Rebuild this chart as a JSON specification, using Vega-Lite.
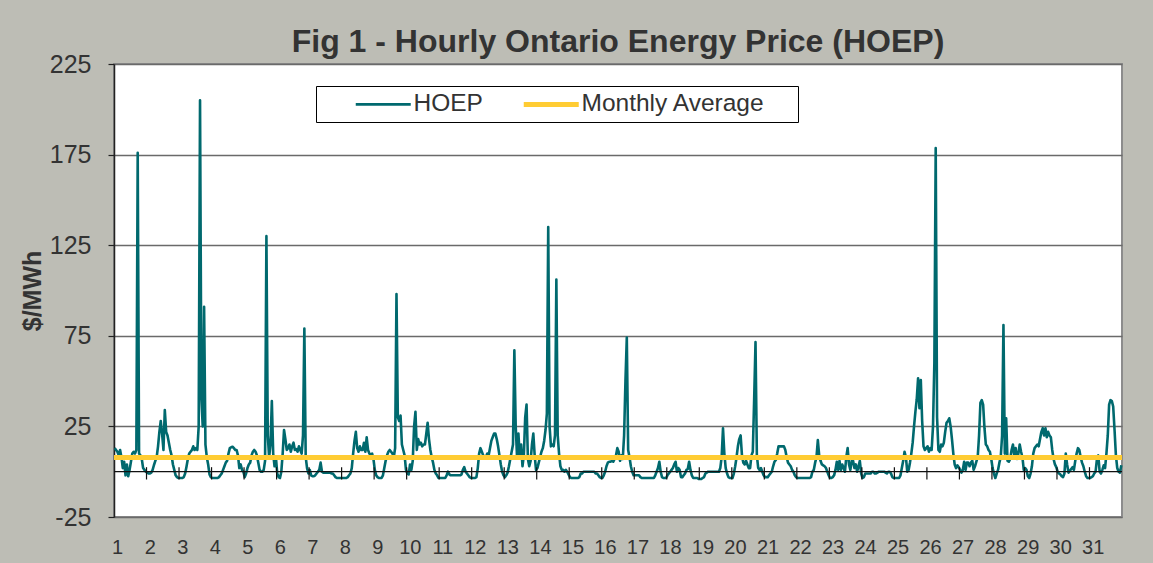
{
  "$schema": "https://vega.github.io/schema/vega-lite/v6.json",
  "width": 1008,
  "height": 453,
  "autosize": {"type": "none"},
  "padding": {"left": 114, "top": 64, "right": 31, "bottom": 46},
  "background": "#BDBDB5",
  "config": {
    "view": {"stroke": "#8C8C8C", "strokeWidth": 2, "fill": "white"},
    "font": "Liberation Sans",
    "axis": {"labelOverlap": false}
  },
  "title": {
    "text": "Fig 1 - Hourly Ontario Energy Price (HOEP)",
    "fontSize": 32,
    "fontWeight": "bold",
    "color": "#333333",
    "font": "Liberation Sans",
    "anchor": "middle",
    "offset": 6,
    "dy": 13
  },
  "datasets": {
    "hoep": [
      {"h":0,"p":13},{"h":1,"p":12},{"h":2,"p":11},{"h":3,"p":9},{"h":4,"p":12},{"h":5,"p":8},{"h":6,"p":2},{"h":7,"p":5.5},{"h":8,"p":-2},{"h":9,"p":4},{"h":10,"p":-2.5},{"h":11,"p":1},{"h":12,"p":5.5},{"h":13,"p":10},{"h":14,"p":11},{"h":15,"p":10},{"h":16,"p":12},{"h":17,"p":176},{"h":18,"p":10},{"h":19,"p":9},{"h":20,"p":7},{"h":21,"p":2},{"h":22,"p":1},{"h":23,"p":0},
      {"h":24,"p":-0.5},{"h":25,"p":-1},{"h":26,"p":-1},{"h":27,"p":-0.5},{"h":28,"p":1},{"h":29,"p":3.7},{"h":30,"p":6},{"h":31,"p":8},{"h":32,"p":14},{"h":33,"p":22},{"h":34,"p":28},{"h":35,"p":21},{"h":36,"p":12},{"h":37,"p":34},{"h":38,"p":22},{"h":39,"p":20},{"h":40,"p":16},{"h":41,"p":12},{"h":42,"p":9},{"h":43,"p":4},{"h":44,"p":1},{"h":45,"p":-2},{"h":46,"p":-3},{"h":47,"p":-3.5},
      {"h":48,"p":-3.5},{"h":49,"p":-3.5},{"h":50,"p":-3.5},{"h":51,"p":-3},{"h":52,"p":-1},{"h":53,"p":2.8},{"h":54,"p":7},{"h":55,"p":10},{"h":56,"p":11},{"h":57,"p":12},{"h":58,"p":14},{"h":59,"p":12},{"h":60,"p":13},{"h":61,"p":12},{"h":62,"p":25},{"h":63,"p":205},{"h":64,"p":40},{"h":65,"p":25},{"h":66,"p":91},{"h":67,"p":15},{"h":68,"p":8},{"h":69,"p":4},{"h":70,"p":-1.5},{"h":71,"p":-3},
      {"h":72,"p":-3.5},{"h":73,"p":-3.5},{"h":74,"p":-3.5},{"h":75,"p":-3.5},{"h":76,"p":-3.5},{"h":77,"p":-3},{"h":78,"p":-2},{"h":79,"p":-1},{"h":80,"p":1},{"h":81,"p":3},{"h":82,"p":5},{"h":83,"p":6},{"h":84,"p":10},{"h":85,"p":13},{"h":86,"p":13.5},{"h":87,"p":13.8},{"h":88,"p":13},{"h":89,"p":12},{"h":90,"p":12},{"h":91,"p":9},{"h":92,"p":2},{"h":93,"p":4},{"h":94,"p":1},{"h":95,"p":0},
      {"h":96,"p":-3},{"h":97,"p":-1},{"h":98,"p":2},{"h":99,"p":4},{"h":100,"p":5},{"h":101,"p":9},{"h":102,"p":11},{"h":103,"p":12},{"h":104,"p":11},{"h":105,"p":9},{"h":106,"p":5},{"h":107,"p":1},{"h":108,"p":0},{"h":109,"p":0},{"h":110,"p":1},{"h":111,"p":6},{"h":112,"p":130},{"h":113,"p":20},{"h":114,"p":8},{"h":115,"p":15},{"h":116,"p":39},{"h":117,"p":10},{"h":118,"p":3},{"h":119,"p":8},
      {"h":120,"p":-1},{"h":121,"p":-3},{"h":122,"p":-3.5},{"h":123,"p":0},{"h":124,"p":10},{"h":125,"p":23},{"h":126,"p":18},{"h":127,"p":12},{"h":128,"p":13},{"h":129,"p":15},{"h":130,"p":11},{"h":131,"p":14},{"h":132,"p":16},{"h":133,"p":12},{"h":134,"p":12.5},{"h":135,"p":11},{"h":136,"p":14},{"h":137,"p":12},{"h":138,"p":10},{"h":139,"p":20},{"h":140,"p":79},{"h":141,"p":8},{"h":142,"p":2},{"h":143,"p":-1},
      {"h":144,"p":1},{"h":145,"p":-2},{"h":146,"p":-2.5},{"h":147,"p":-2.5},{"h":148,"p":-2},{"h":149,"p":-1},{"h":150,"p":0},{"h":151,"p":1},{"h":152,"p":5},{"h":153,"p":0},{"h":154,"p":-0.5},{"h":155,"p":-0.5},{"h":156,"p":-0.5},{"h":157,"p":-0.5},{"h":158,"p":-0.5},{"h":159,"p":-0.5},{"h":160,"p":-1},{"h":161,"p":-1},{"h":162,"p":-2},{"h":163,"p":-3},{"h":164,"p":-3.5},{"h":165,"p":-3.5},{"h":166,"p":-3.5},{"h":167,"p":-3.5},
      {"h":168,"p":-3.5},{"h":169,"p":-3.5},{"h":170,"p":-3.5},{"h":171,"p":-3.5},{"h":172,"p":-3},{"h":173,"p":-2},{"h":174,"p":-1},{"h":175,"p":2},{"h":176,"p":10},{"h":177,"p":17},{"h":178,"p":22},{"h":179,"p":13},{"h":180,"p":11},{"h":181,"p":14},{"h":182,"p":12},{"h":183,"p":12},{"h":184,"p":16},{"h":185,"p":11},{"h":186,"p":19},{"h":187,"p":12},{"h":188,"p":10},{"h":189,"p":9},{"h":190,"p":10},{"h":191,"p":7},
      {"h":192,"p":1},{"h":193,"p":-2},{"h":194,"p":-3},{"h":195,"p":-3.5},{"h":196,"p":-3.5},{"h":197,"p":-3.5},{"h":198,"p":-2},{"h":199,"p":2},{"h":200,"p":6},{"h":201,"p":9},{"h":202,"p":11},{"h":203,"p":12},{"h":204,"p":11},{"h":205,"p":10},{"h":206,"p":8},{"h":207,"p":13},{"h":208,"p":98},{"h":209,"p":30},{"h":210,"p":28},{"h":211,"p":31},{"h":212,"p":15},{"h":213,"p":12},{"h":214,"p":9},{"h":215,"p":1},
      {"h":216,"p":-1},{"h":217,"p":-1.5},{"h":218,"p":4},{"h":219,"p":1},{"h":220,"p":6},{"h":221,"p":25},{"h":222,"p":33},{"h":223,"p":12},{"h":224,"p":18},{"h":225,"p":15},{"h":226,"p":16},{"h":227,"p":14},{"h":228,"p":15},{"h":229,"p":15},{"h":230,"p":21},{"h":231,"p":27},{"h":232,"p":18},{"h":233,"p":12},{"h":234,"p":8},{"h":235,"p":5},{"h":236,"p":1},{"h":237,"p":-1},{"h":238,"p":-2},{"h":239,"p":-3.5},
      {"h":240,"p":-3.5},{"h":241,"p":-3.5},{"h":242,"p":-3.5},{"h":243,"p":-3.5},{"h":244,"p":-3.5},{"h":245,"p":-2},{"h":246,"p":0},{"h":247,"p":-1.5},{"h":248,"p":-2},{"h":249,"p":-2},{"h":250,"p":-2},{"h":251,"p":-2},{"h":252,"p":-2},{"h":253,"p":-2},{"h":254,"p":-2},{"h":255,"p":-2},{"h":256,"p":-1.5},{"h":257,"p":1},{"h":258,"p":2.5},{"h":259,"p":0},{"h":260,"p":-1},{"h":261,"p":-2},{"h":262,"p":-3},{"h":263,"p":-3.5},
      {"h":264,"p":-3.5},{"h":265,"p":-3.5},{"h":266,"p":-3.5},{"h":267,"p":-3},{"h":268,"p":2},{"h":269,"p":10},{"h":270,"p":13},{"h":271,"p":11},{"h":272,"p":9},{"h":273,"p":8},{"h":274,"p":8},{"h":275,"p":10},{"h":276,"p":9},{"h":277,"p":13},{"h":278,"p":17},{"h":279,"p":19},{"h":280,"p":21},{"h":281,"p":21},{"h":282,"p":18},{"h":283,"p":14},{"h":284,"p":9},{"h":285,"p":4},{"h":286,"p":0},{"h":287,"p":-2},
      {"h":288,"p":-3},{"h":289,"p":-2},{"h":290,"p":-0.5},{"h":291,"p":3},{"h":292,"p":7},{"h":293,"p":11},{"h":294,"p":15},{"h":295,"p":67},{"h":296,"p":25},{"h":297,"p":8},{"h":298,"p":21},{"h":299,"p":8},{"h":300,"p":15},{"h":301,"p":3},{"h":302,"p":9},{"h":303,"p":30},{"h":304,"p":37},{"h":305,"p":7},{"h":306,"p":3},{"h":307,"p":6},{"h":308,"p":15},{"h":309,"p":21},{"h":310,"p":9},{"h":311,"p":1},
      {"h":312,"p":2},{"h":313,"p":5},{"h":314,"p":8},{"h":315,"p":11},{"h":316,"p":13},{"h":317,"p":17},{"h":318,"p":23},{"h":319,"p":32},{"h":320,"p":135},{"h":321,"p":25},{"h":322,"p":14},{"h":323,"p":15},{"h":324,"p":14},{"h":325,"p":20},{"h":326,"p":106},{"h":327,"p":20},{"h":328,"p":10},{"h":329,"p":3},{"h":330,"p":1},{"h":331,"p":1},{"h":332,"p":0},{"h":333,"p":1},{"h":334,"p":0},{"h":335,"p":-1.5},
      {"h":336,"p":-3},{"h":337,"p":-3.5},{"h":338,"p":-3.5},{"h":339,"p":-3.5},{"h":340,"p":-3.5},{"h":341,"p":-3.5},{"h":342,"p":-3.5},{"h":343,"p":-3},{"h":344,"p":-1},{"h":345,"p":-1},{"h":346,"p":0},{"h":347,"p":0},{"h":348,"p":0},{"h":349,"p":0},{"h":350,"p":0},{"h":351,"p":0},{"h":352,"p":0},{"h":353,"p":0},{"h":354,"p":0},{"h":355,"p":-1},{"h":356,"p":-1},{"h":357,"p":-2},{"h":358,"p":-3},{"h":359,"p":-3.5},
      {"h":360,"p":-3.5},{"h":361,"p":-2},{"h":362,"p":0},{"h":363,"p":3},{"h":364,"p":5},{"h":365,"p":5.5},{"h":366,"p":5.5},{"h":367,"p":6},{"h":368,"p":5.5},{"h":369,"p":7},{"h":370,"p":9},{"h":371,"p":13},{"h":372,"p":11},{"h":373,"p":6},{"h":374,"p":9},{"h":375,"p":7},{"h":376,"p":20},{"h":377,"p":50},{"h":378,"p":74},{"h":379,"p":12},{"h":380,"p":8},{"h":381,"p":3},{"h":382,"p":0},{"h":383,"p":-2},
      {"h":384,"p":-2},{"h":385,"p":-2},{"h":386,"p":-2},{"h":387,"p":-2},{"h":388,"p":-3},{"h":389,"p":-3.5},{"h":390,"p":-3.5},{"h":391,"p":-3.5},{"h":392,"p":-3.5},{"h":393,"p":-3.5},{"h":394,"p":-3.5},{"h":395,"p":-3.5},{"h":396,"p":-3.5},{"h":397,"p":-3.5},{"h":398,"p":-3.5},{"h":399,"p":-2},{"h":400,"p":0},{"h":401,"p":2},{"h":402,"p":5.5},{"h":403,"p":0},{"h":404,"p":-3},{"h":405,"p":-3.5},{"h":406,"p":-3.5},{"h":407,"p":-3.5},
      {"h":408,"p":-2},{"h":409,"p":-1},{"h":410,"p":0},{"h":411,"p":1},{"h":412,"p":2},{"h":413,"p":4},{"h":414,"p":5.5},{"h":415,"p":0},{"h":416,"p":2},{"h":417,"p":1},{"h":418,"p":-3},{"h":419,"p":-3},{"h":420,"p":-2},{"h":421,"p":-1},{"h":422,"p":1},{"h":423,"p":1.5},{"h":424,"p":5.5},{"h":425,"p":1},{"h":426,"p":-2},{"h":427,"p":-3.5},{"h":428,"p":-3.5},{"h":429,"p":-3.5},{"h":430,"p":-3.5},{"h":431,"p":-4},
      {"h":432,"p":-4},{"h":433,"p":-4},{"h":434,"p":-3.5},{"h":435,"p":-3},{"h":436,"p":-1},{"h":437,"p":-0.5},{"h":438,"p":0},{"h":439,"p":0},{"h":440,"p":0},{"h":441,"p":0},{"h":442,"p":0},{"h":443,"p":0},{"h":444,"p":0},{"h":445,"p":0},{"h":446,"p":0},{"h":447,"p":2},{"h":448,"p":8},{"h":449,"p":24},{"h":450,"p":10},{"h":451,"p":2},{"h":452,"p":-1},{"h":453,"p":-3},{"h":454,"p":-3.5},{"h":455,"p":-3.5},
      {"h":456,"p":-3.5},{"h":457,"p":-1},{"h":458,"p":3},{"h":459,"p":8},{"h":460,"p":14},{"h":461,"p":18},{"h":462,"p":20},{"h":463,"p":9},{"h":464,"p":5},{"h":465,"p":4},{"h":466,"p":6},{"h":467,"p":4},{"h":468,"p":2},{"h":469,"p":2},{"h":470,"p":9},{"h":471,"p":11},{"h":472,"p":40},{"h":473,"p":71.5},{"h":474,"p":9},{"h":475,"p":2},{"h":476,"p":1},{"h":477,"p":2},{"h":478,"p":0},{"h":479,"p":-2},
      {"h":480,"p":-3},{"h":481,"p":-3},{"h":482,"p":-3},{"h":483,"p":-2},{"h":484,"p":-1},{"h":485,"p":0},{"h":486,"p":3},{"h":487,"p":5.5},{"h":488,"p":6.5},{"h":489,"p":10},{"h":490,"p":14},{"h":491,"p":14},{"h":492,"p":14},{"h":493,"p":14},{"h":494,"p":14},{"h":495,"p":12},{"h":496,"p":8},{"h":497,"p":5},{"h":498,"p":4},{"h":499,"p":3},{"h":500,"p":1},{"h":501,"p":0},{"h":502,"p":-2},{"h":503,"p":-3},
      {"h":504,"p":-3.5},{"h":505,"p":-3.5},{"h":506,"p":-3.5},{"h":507,"p":-3.5},{"h":508,"p":-3.5},{"h":509,"p":-3.5},{"h":510,"p":-3.5},{"h":511,"p":-3.5},{"h":512,"p":-3.5},{"h":513,"p":-3.5},{"h":514,"p":-3},{"h":515,"p":0},{"h":516,"p":1},{"h":517,"p":5},{"h":518,"p":8},{"h":519,"p":17.5},{"h":520,"p":9},{"h":521,"p":6},{"h":522,"p":4},{"h":523,"p":3.5},{"h":524,"p":3},{"h":525,"p":2},{"h":526,"p":0},{"h":527,"p":-2},
      {"h":528,"p":-3.5},{"h":529,"p":-3.5},{"h":530,"p":-3},{"h":531,"p":-2},{"h":532,"p":1},{"h":533,"p":5.5},{"h":534,"p":1},{"h":535,"p":6},{"h":536,"p":1},{"h":537,"p":4},{"h":538,"p":2},{"h":539,"p":0},{"h":540,"p":8},{"h":541,"p":13},{"h":542,"p":4},{"h":543,"p":1},{"h":544,"p":6},{"h":545,"p":6},{"h":546,"p":2},{"h":547,"p":4},{"h":548,"p":0},{"h":549,"p":3},{"h":550,"p":6},{"h":551,"p":-1},
      {"h":552,"p":-3.5},{"h":553,"p":-3},{"h":554,"p":-1},{"h":555,"p":-1},{"h":556,"p":-1},{"h":557,"p":-1},{"h":558,"p":-1},{"h":559,"p":0},{"h":560,"p":0},{"h":561,"p":-1},{"h":562,"p":-1},{"h":563,"p":-0.5},{"h":564,"p":0},{"h":565,"p":0},{"h":566,"p":0},{"h":567,"p":0},{"h":568,"p":0},{"h":569,"p":-0.5},{"h":570,"p":-1},{"h":571,"p":0},{"h":572,"p":0},{"h":573,"p":-1},{"h":574,"p":-3},{"h":575,"p":-3.5},
      {"h":576,"p":-3.5},{"h":577,"p":-3.5},{"h":578,"p":-3.5},{"h":579,"p":-3.5},{"h":580,"p":-2},{"h":581,"p":2},{"h":582,"p":6},{"h":583,"p":11},{"h":584,"p":8},{"h":585,"p":0},{"h":586,"p":1},{"h":587,"p":5},{"h":588,"p":10},{"h":589,"p":16},{"h":590,"p":25},{"h":591,"p":33},{"h":592,"p":40},{"h":593,"p":51.6},{"h":594,"p":35},{"h":595,"p":50.6},{"h":596,"p":28},{"h":597,"p":14},{"h":598,"p":12},{"h":599,"p":13},
      {"h":600,"p":14},{"h":601,"p":11},{"h":602,"p":13},{"h":603,"p":12},{"h":604,"p":25},{"h":605,"p":60},{"h":606,"p":178.6},{"h":607,"p":30},{"h":608,"p":12},{"h":609,"p":11},{"h":610,"p":15},{"h":611,"p":14},{"h":612,"p":16},{"h":613,"p":22},{"h":614,"p":27},{"h":615,"p":28},{"h":616,"p":29.5},{"h":617,"p":25},{"h":618,"p":18},{"h":619,"p":10},{"h":620,"p":4},{"h":621,"p":2},{"h":622,"p":3.5},{"h":623,"p":2.5},
      {"h":624,"p":1},{"h":625,"p":-0.5},{"h":626,"p":1},{"h":627,"p":5.5},{"h":628,"p":1},{"h":629,"p":5},{"h":630,"p":5},{"h":631,"p":3},{"h":632,"p":5},{"h":633,"p":6},{"h":634,"p":1},{"h":635,"p":3},{"h":636,"p":5.5},{"h":637,"p":8},{"h":638,"p":20},{"h":639,"p":38},{"h":640,"p":39.5},{"h":641,"p":37},{"h":642,"p":24},{"h":643,"p":15},{"h":644,"p":14},{"h":645,"p":12},{"h":646,"p":11},{"h":647,"p":7},
      {"h":648,"p":2},{"h":649,"p":-1},{"h":650,"p":-3.5},{"h":651,"p":-1},{"h":652,"p":1},{"h":653,"p":5},{"h":654,"p":8},{"h":655,"p":20},{"h":656,"p":81},{"h":657,"p":10},{"h":658,"p":29.5},{"h":659,"p":6},{"h":660,"p":5.5},{"h":661,"p":7},{"h":662,"p":12},{"h":663,"p":15},{"h":664,"p":9},{"h":665,"p":13},{"h":666,"p":7},{"h":667,"p":10},{"h":668,"p":15},{"h":669,"p":11},{"h":670,"p":8},{"h":671,"p":1},
      {"h":672,"p":2},{"h":673,"p":1},{"h":674,"p":-2.5},{"h":675,"p":-3.5},{"h":676,"p":-1},{"h":677,"p":3},{"h":678,"p":10},{"h":679,"p":13},{"h":680,"p":14},{"h":681,"p":15},{"h":682,"p":14},{"h":683,"p":18},{"h":684,"p":22},{"h":685,"p":24},{"h":686,"p":20},{"h":687,"p":24},{"h":688,"p":19},{"h":689,"p":22},{"h":690,"p":20},{"h":691,"p":19},{"h":692,"p":12},{"h":693,"p":7},{"h":694,"p":4},{"h":695,"p":2.5},
      {"h":696,"p":0},{"h":697,"p":-1},{"h":698,"p":-1.5},{"h":699,"p":-2.5},{"h":700,"p":-3},{"h":701,"p":-1},{"h":702,"p":10},{"h":703,"p":4},{"h":704,"p":-0.5},{"h":705,"p":0.5},{"h":706,"p":1.5},{"h":707,"p":2.5},{"h":708,"p":1},{"h":709,"p":6},{"h":710,"p":10},{"h":711,"p":13},{"h":712,"p":12},{"h":713,"p":8},{"h":714,"p":5},{"h":715,"p":3},{"h":716,"p":0},{"h":717,"p":-2.5},{"h":718,"p":-3.5},{"h":719,"p":-3.5},
      {"h":720,"p":-3.5},{"h":721,"p":-3},{"h":722,"p":-2.5},{"h":723,"p":-1},{"h":724,"p":0},{"h":725,"p":7},{"h":726,"p":9},{"h":727,"p":0},{"h":728,"p":-1},{"h":729,"p":1},{"h":730,"p":3.5},{"h":731,"p":2},{"h":732,"p":10},{"h":733,"p":20},{"h":734,"p":37},{"h":735,"p":39.5},{"h":736,"p":39},{"h":737,"p":36},{"h":738,"p":23},{"h":739,"p":9},{"h":740,"p":2},{"h":741,"p":0},{"h":742,"p":-0.5},{"h":743,"p":3.5}
    ],
    "avg": [{"h": -0.5, "p": 7.8}, {"h": 743.5, "p": 7.8}],
    "zero": [{"h": -0.5, "p": 0}, {"h": 743.5, "p": 0}],
    "days": [
      {"h":23.5},{"h":47.5},{"h":71.5},{"h":95.5},{"h":119.5},{"h":143.5},{"h":167.5},{"h":191.5},{"h":215.5},{"h":239.5},
      {"h":263.5},{"h":287.5},{"h":311.5},{"h":335.5},{"h":359.5},{"h":383.5},{"h":407.5},{"h":431.5},{"h":455.5},{"h":479.5},
      {"h":503.5},{"h":527.5},{"h":551.5},{"h":575.5},{"h":599.5},{"h":623.5},{"h":647.5},{"h":671.5},{"h":695.5},{"h":719.5}
    ]
  },
  "encoding": {
    "x": {
      "field": "h",
      "type": "quantitative",
      "title": null,
      "scale": {"domain": [-0.5, 743.5], "nice": false, "zero": false},
      "axis": {
        "title": null,
        "values": [0,24,48,72,96,120,144,168,192,216,240,264,288,312,336,360,384,408,432,456,480,504,528,552,576,600,624,648,672,696,720],
        "labelExpr": "format(floor(datum.value / 24) + 1, 'd')",
        "ticks": false,
        "domain": false,
        "grid": false,
        "labelFontSize": 20,
        "labelColor": "#333333",
        "labelFont": "Liberation Sans",
        "labelPadding": 20,
        "labelOffset": 2.5,
        "labelFlush": false,
        "labelOverlap": false,
        "labelSeparation": 0
      }
    }
  },
  "layer": [
    {
      "data": {"name": "hoep"},
      "mark": {"type": "line", "interpolate": "linear", "strokeJoin": "round"},
      "encoding": {
        "y": {
          "field": "p",
          "type": "quantitative",
          "title": "$/MWh",
          "scale": {"domain": [-25, 225], "nice": false, "zero": false},
          "axis": {
            "title": "$/MWh",
            "titleFontSize": 25,
            "titleFontWeight": "bold",
            "titleColor": "#333333",
            "titleFont": "Liberation Sans",
            "titlePadding": 4,
            "values": [-25, 25, 75, 125, 175, 225],
            "labelExpr": "datum.value < 0 ? '-' + format(-datum.value, 'd') : format(datum.value, 'd')",
            "grid": true,
            "gridColor": "#6A6A6A",
            "gridWidth": 1.5,
            "domain": true,
            "domainColor": "#222222",
            "domainWidth": 1.5,
            "ticks": true,
            "tickColor": "#222222",
            "tickSize": 6,
            "tickWidth": 1.2,
            "labelFontSize": 25,
            "labelColor": "#333333",
            "labelFont": "Liberation Sans",
            "labelPadding": 17,
            "labelFlush": false,
            "labelOverlap": false
          }
        },
        "color": {
          "datum": "HOEP",
          "type": "nominal",
          "scale": {"domain": ["HOEP", "Monthly Average"], "range": ["#00696E", "#FFCC33"]},
          "legend": {
            "title": " ",
            "titleOrient": "right",
            "titleFontSize": 2,
            "titlePadding": 27,
            "orient": "none",
            "legendX": 202,
            "legendY": 22,
            "direction": "horizontal",
            "strokeColor": "#000000",
            "fillColor": "#FFFFFF",
            "padding": 6,
            "symbolType": "M10.75,0H38.25",
            "symbolSize": 16,
            "labelFontSize": 24.5,
            "labelColor": "#333333",
            "labelFont": "Liberation Sans",
            "labelOffset": 67,
            "labelLimit": 400,
            "columnPadding": 7
          }
        },
        "strokeWidth": {
          "datum": "HOEP",
          "type": "nominal",
          "scale": {"domain": ["HOEP", "Monthly Average"], "range": [2.6, 5]},
          "legend": null
        }
      }
    },
    {
      "data": {"name": "zero"},
      "mark": {"type": "line", "color": "#111111", "strokeWidth": 1.2},
      "encoding": {
        "y": {"field": "p", "type": "quantitative", "title": "$/MWh"}
      }
    },
    {
      "data": {"name": "days"},
      "mark": {"type": "rule", "color": "#111111", "strokeWidth": 1.2},
      "encoding": {
        "y": {"datum": -4.3, "type": "quantitative", "title": "$/MWh"},
        "y2": {"datum": 2.5}
      }
    },
    {
      "data": {"name": "avg"},
      "mark": {"type": "line"},
      "encoding": {
        "y": {"field": "p", "type": "quantitative", "title": "$/MWh"},
        "color": {"datum": "Monthly Average", "type": "nominal"},
        "strokeWidth": {"datum": "Monthly Average", "type": "nominal", "legend": null}
      }
    }
  ]
}
